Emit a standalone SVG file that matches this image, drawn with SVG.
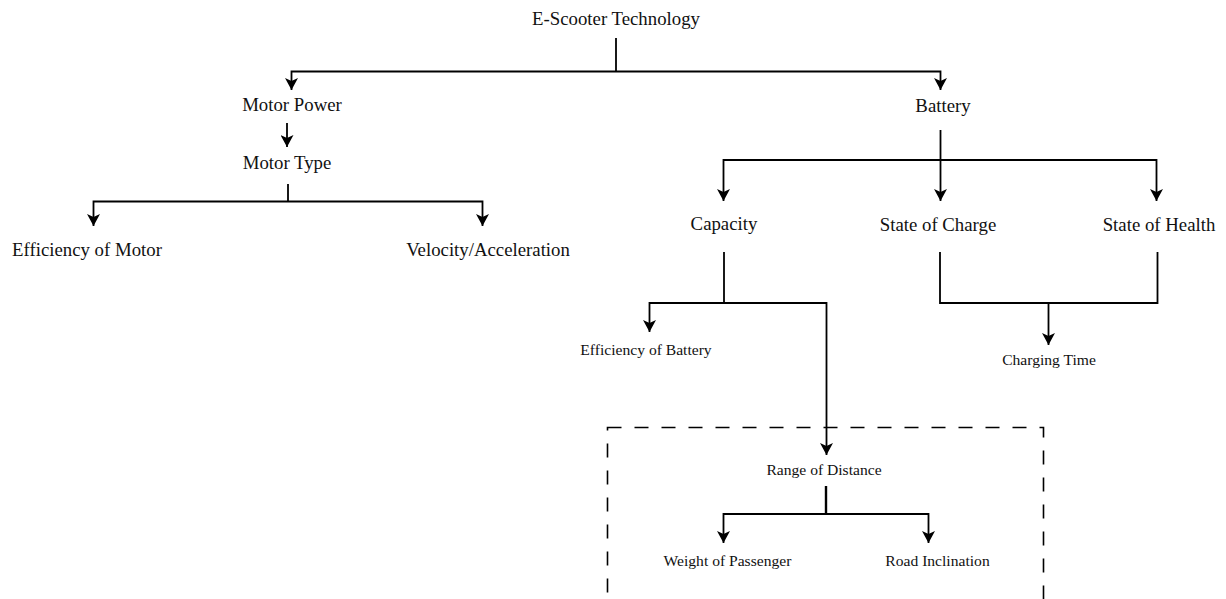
<svg xmlns="http://www.w3.org/2000/svg" width="1226" height="599" viewBox="0 0 1226 599">
  <style>
    .lbl { font-family: "Liberation Serif", "Times New Roman", serif; font-size: 18.8px; fill: #111; text-anchor: middle; }
    .sm { font-size: 15.6px; }
    .wire { fill: none; stroke: #000; stroke-width: 1.8; }
    .group { fill: none; stroke: #000; stroke-width: 1.6; stroke-dasharray: 14 13; }
  </style>
  <defs>
    <marker id="tip" markerUnits="userSpaceOnUse" markerWidth="13" markerHeight="13" refX="12" refY="6.5" orient="auto" viewBox="0 0 13 13">
      <path d="M0,0 L12,6.5 L0,13 L3,6.5 Z" fill="#000"/>
    </marker>
  </defs>
  <rect width="1226" height="599" fill="#fff"/>

  <!-- dashed frame around the range group -->
  <rect class="group" x="607.5" y="427.5" width="436" height="200"/>

  <g id="connectors">
    <!-- root split -->
    <path class="wire" d="M616,38 V71.5"/>
    <path class="wire" d="M616,71.5 H291.5 V90" marker-end="url(#tip)"/>
    <path class="wire" d="M616,71.5 H940.5 V90" marker-end="url(#tip)"/>
    <!-- motor branch -->
    <path class="wire" d="M287,123 V147" marker-end="url(#tip)"/>
    <path class="wire" d="M288,184 V201.5"/>
    <path class="wire" d="M288,201.5 H93.5 V226" marker-end="url(#tip)"/>
    <path class="wire" d="M288,201.5 H482.5 V226" marker-end="url(#tip)"/>
    <!-- battery branch -->
    <path class="wire" d="M940.5,130 V201" marker-end="url(#tip)"/>
    <path class="wire" d="M940.5,160 H723.5 V201" marker-end="url(#tip)"/>
    <path class="wire" d="M940.5,160 H1156.5 V201" marker-end="url(#tip)"/>
    <!-- capacity split -->
    <path class="wire" d="M724,252 V303"/>
    <path class="wire" d="M724,303 H649.5 V332" marker-end="url(#tip)"/>
    <path class="wire" d="M724,303 H826.5 V455" marker-end="url(#tip)"/>
    <!-- charge and health merge -->
    <path class="wire" d="M940,252 V303 H1157.5 V252"/>
    <path class="wire" d="M1048.5,303 V345" marker-end="url(#tip)"/>
    <!-- range split -->
    <path class="wire" d="M826,486 V514" style="stroke-width:2.4"/>
    <path class="wire" d="M826,514 H723.5 V543" marker-end="url(#tip)"/>
    <path class="wire" d="M826,514 H928.5 V543" marker-end="url(#tip)"/>
  </g>

  <g id="n-root"><text class="lbl" x="616" y="25">E-Scooter Technology</text></g>
  <g id="n-motor-power"><text class="lbl" x="292" y="111">Motor Power</text></g>
  <g id="n-battery"><text class="lbl" x="943" y="112">Battery</text></g>
  <g id="n-motor-type"><text class="lbl" x="287" y="169">Motor Type</text></g>
  <g id="n-eff-motor"><text class="lbl" x="87" y="256">Efficiency of Motor</text></g>
  <g id="n-velocity"><text class="lbl" x="488" y="256">Velocity/Acceleration</text></g>
  <g id="n-capacity"><text class="lbl" x="724" y="230">Capacity</text></g>
  <g id="n-soc"><text class="lbl" x="938" y="231">State of Charge</text></g>
  <g id="n-soh"><text class="lbl" x="1159" y="231">State of Health</text></g>
  <g id="n-eff-battery"><text class="lbl sm" x="646" y="355">Efficiency of Battery</text></g>
  <g id="n-charging"><text class="lbl sm" x="1049" y="365">Charging Time</text></g>
  <g id="n-range"><text class="lbl sm" x="824" y="475">Range of Distance</text></g>
  <g id="n-weight"><text class="lbl sm" x="727.5" y="566">Weight of Passenger</text></g>
  <g id="n-road"><text class="lbl sm" x="937.5" y="566">Road Inclination</text></g>
</svg>
